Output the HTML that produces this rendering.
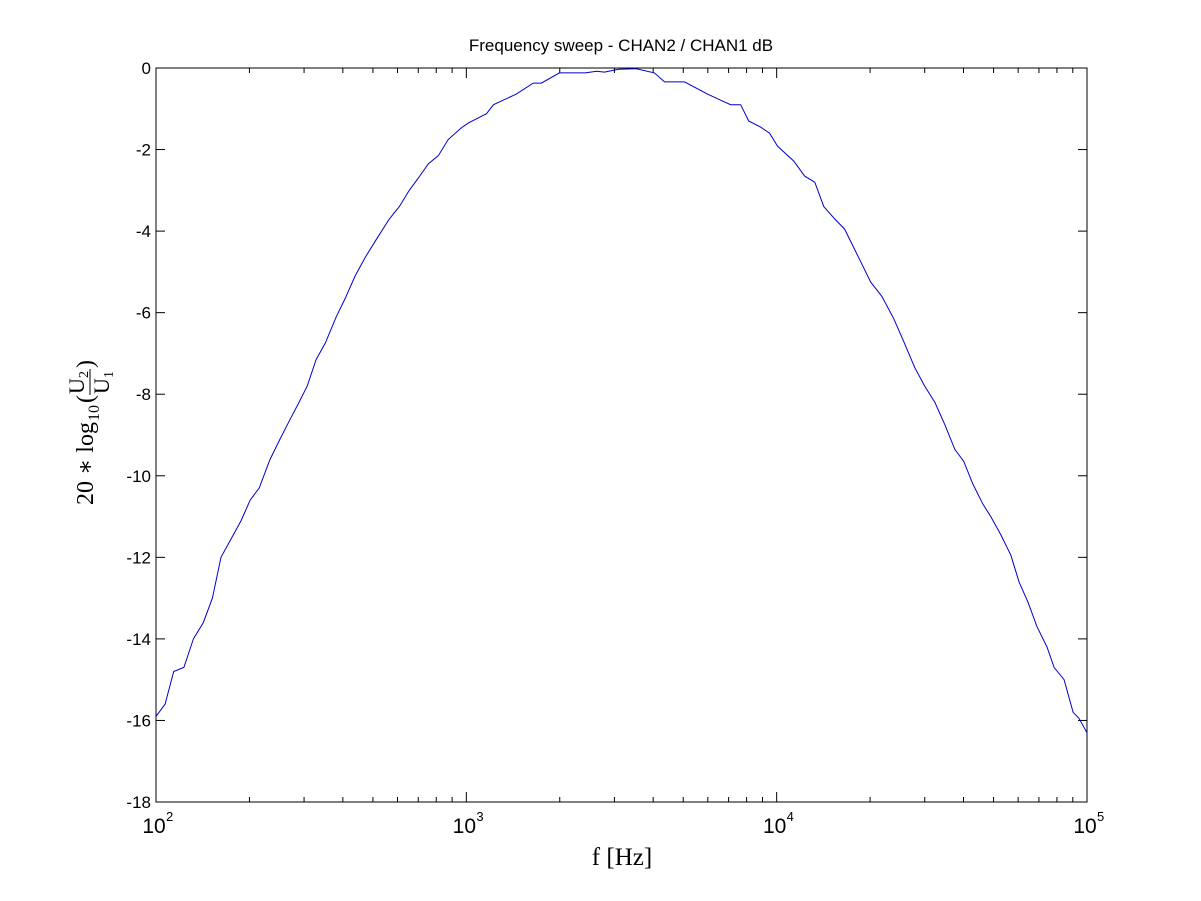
<!DOCTYPE html>
<html><head><meta charset="utf-8"><style>
body{margin:0;background:#fff;}
svg{display:block;}
text{font-family:"Liberation Sans",Arial,sans-serif;fill:#000;}
.serif{font-family:"Liberation Serif","DejaVu Serif",serif;}
</style></head><body>
<svg id="chart" width="1201" height="901">
<rect x="0" y="0" width="1201" height="901" fill="#fff"/>
<text x="621" y="51" font-size="17" text-anchor="middle">Frequency sweep - CHAN2 / CHAN1 dB</text>
<g id="axes"></g>
<text class="serif" x="622" y="865" font-size="25" text-anchor="middle">f [Hz]</text>
<g transform="translate(93,435) rotate(-90)">
<text class="serif" x="-70" y="0" font-size="24">20 ∗ log</text>
<text class="serif" x="14" y="6" font-size="16">10</text>
<text class="serif" x="32" y="0" font-size="24">(</text>
<text class="serif" x="41" y="-9" font-size="22">U</text>
<text class="serif" x="57" y="-5" font-size="14">2</text>
<line x1="40" y1="-3" x2="66" y2="-3" stroke="#000" stroke-width="1"/>
<text class="serif" x="41" y="16" font-size="22">U</text>
<text class="serif" x="57" y="20" font-size="14">1</text>
<text class="serif" x="67" y="0" font-size="24">)</text>
</g>
</svg>
<script>
const freqs=[100,107,114,123,132,142,152,162,176,188,201,215,233,251,269,289,307,328,351,381,407,438,472,513,565,608,655,700,754,812,875,963,1014,1161,1223,1449,1644,1746,1995,2421,2626,2787,3092,3533,4036,4353,5047,5988,6596,7112,7656,8128,8877,9489,10070,11350,12300,13270,14190,15380,16560,18660,20090,21830,23850,25480,27860,29990,32360,34830,37500,40090,42860,46210,48980,52810,56870,60390,64570,69030,74340,78340,84370,90190,94230,100000];
const gains=[-15.9,-15.6,-14.8,-14.7,-14.0,-13.6,-13.0,-12.0,-11.5,-11.1,-10.6,-10.3,-9.6,-9.1,-8.65,-8.2,-7.8,-7.15,-6.75,-6.1,-5.65,-5.1,-4.65,-4.2,-3.7,-3.4,-3.0,-2.7,-2.35,-2.15,-1.75,-1.47,-1.35,-1.12,-0.9,-0.64,-0.37,-0.37,-0.12,-0.12,-0.08,-0.1,-0.03,-0.02,-0.12,-0.34,-0.34,-0.64,-0.79,-0.9,-0.9,-1.3,-1.45,-1.6,-1.92,-2.28,-2.65,-2.8,-3.4,-3.7,-3.95,-4.75,-5.25,-5.6,-6.15,-6.65,-7.35,-7.8,-8.2,-8.75,-9.35,-9.65,-10.2,-10.7,-11.0,-11.45,-11.95,-12.6,-13.1,-13.7,-14.2,-14.7,-15.0,-15.8,-15.95,-16.3];
const yTicks=[0,-2,-4,-6,-8,-10,-12,-14,-16,-18];
const xDecades=[2,3,4,5];

const L=156,R=1087,T=68,B=802;
const NS='http://www.w3.org/2000/svg';
const g=document.getElementById('axes');
function X(f){return L+(Math.log10(f)-2)/3*(R-L);}
function Y(v){return T+(0-v)/18*(B-T);}
function el(t,a){const e=document.createElementNS(NS,t);for(const k in a)e.setAttribute(k,a[k]);g.appendChild(e);return e;}

let box=el('rect',{x:L,y:T,width:R-L,height:B-T,fill:'none',stroke:'#000','stroke-width':1});



yTicks.forEach(v=>{
  const y=Y(v);
  let a=el('line',{x1:L,y1:y,x2:L+9,y2:y,stroke:'#000'});
  
  
  let b=el('line',{x1:R,y1:y,x2:R-9,y2:y,stroke:'#000'});
  
  
  let t=el('text',{x:L-5,y:y+6,'font-size':17,'text-anchor':'end'});
  t.textContent=String(v);
  
  
});

xDecades.forEach((d,i)=>{
  const f=Math.pow(10,d),x=X(f);
  let a=el('line',{x1:x,y1:B,x2:x,y2:B-10,stroke:'#000'});
  
  
  let b=el('line',{x1:x,y1:T,x2:x,y2:T+10,stroke:'#000'});
  
  
  let t=el('text',{x:x-2,y:B+31,'font-size':21,'text-anchor':'middle'});
  t.textContent='10';
  
  
  let s=el('text',{x:x+10,y:B+19,'font-size':13});
  s.textContent=String(d);
  
  
  if(i<xDecades.length-1){
    for(let m=2;m<=9;m++){
      const xm=X(m*f);
      let c=el('line',{x1:xm,y1:B,x2:xm,y2:B-5,stroke:'#000'});
      
      
      let e=el('line',{x1:xm,y1:T,x2:xm,y2:T+5,stroke:'#000'});
      
      
    }
  }
});

const pts=freqs.map((f,i)=>X(f).toFixed(1)+','+Y(gains[i]).toFixed(1)).join(' ');
let line=el('polyline',{points:pts,fill:'none',stroke:'#0000cc','stroke-width':1});


</script>
</body></html>
